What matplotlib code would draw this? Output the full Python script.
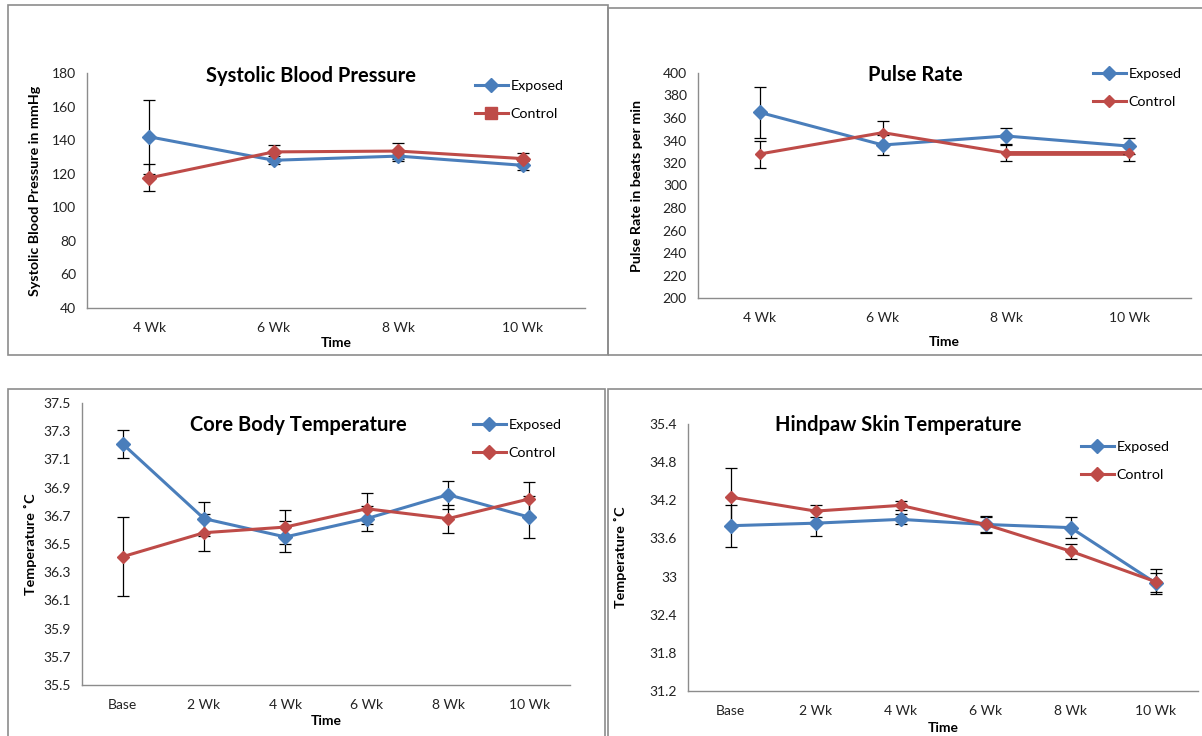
import matplotlib
matplotlib.use('Agg')
import matplotlib.pyplot as plt
from matplotlib.lines import Line2D
from matplotlib.patches import Rectangle
from matplotlib.ticker import FuncFormatter
import numpy as np

plt.rcParams['font.family'] = ['Lato', 'DejaVu Sans']

weeks4 = ['4 Wk', '6 Wk', '8 Wk', '10 Wk']
weeks6 = ['Base', '2 Wk', '4 Wk', '6 Wk', '8 Wk', '10 Wk']

sbp_exposed = [142, 128, 130.5, 125]
sbp_exposed_err = [22, 2.5, 3, 2.5]
sbp_control = [117.5, 133, 133.5, 129]
sbp_control_err = [8, 4, 4.5, 3.5]

pulse_exposed = [365, 336, 344, 335]
pulse_exposed_err = [23, 9, 7, 7]
pulse_control = [328, 347, 329, 329]
pulse_control_err = [12, 10, 7, 7]

core_exposed = [37.21, 36.68, 36.55, 36.68, 36.85, 36.69]
core_exposed_err = [0.10, 0.12, 0.11, 0.09, 0.10, 0.15]
core_control = [36.41, 36.58, 36.62, 36.75, 36.68, 36.82]
core_control_err = [0.28, 0.13, 0.12, 0.11, 0.10, 0.12]

paw_exposed = [33.80, 33.84, 33.90, 33.82, 33.77, 32.90]
paw_exposed_err = [0.33, 0.20, 0.08, 0.12, 0.16, 0.15]
paw_control = [34.25, 34.03, 34.12, 33.82, 33.40, 32.92]
paw_control_err = [0.45, 0.10, 0.07, 0.13, 0.12, 0.20]

BLUE = '#4A7EBB'
RED = '#BE4B48'
W, H = 1202, 736

fig = plt.figure(figsize=(W / 100, H / 100), dpi=100)


def px_axes(left, top, right, bottom):
    return fig.add_axes([left / W, 1 - bottom / H, (right - left) / W, (bottom - top) / H])


def ftext(x, y, s, **kw):
    fig.text(x / W, 1 - y / H, s, **kw)


def panel(box, axbox, cats, exp, exp_err, ctl, ctl_err, yticks, ylabel,
          title, title_xy, leg_xy, ylab_x, time_y, fmt, ctl_ms=7, ctl_marker='D'):
    fig.patches.append(Rectangle((box[0] / W, 1 - box[3] / H), (box[2] - box[0]) / W,
                                 (box[3] - box[1]) / H, transform=fig.transFigure,
                                 fill=False, ec='#8c8c8c', lw=1.2))
    ax = px_axes(*axbox)
    x = np.arange(len(cats))
    ax.errorbar(x, exp, yerr=exp_err, color=BLUE, lw=2.2, marker='D', ms=7,
                ecolor='black', elinewidth=0.9, capsize=4, capthick=0.9, zorder=3)
    ax.errorbar(x, ctl, yerr=ctl_err, color=RED, lw=2.2, marker='D', ms=ctl_ms,
                ecolor='black', elinewidth=0.9, capsize=4, capthick=0.9, zorder=3)
    ax.set_xlim(-0.5, len(cats) - 0.5)
    ax.set_ylim(yticks[0], yticks[-1])
    ax.set_xticks(x)
    ax.set_xticklabels(cats)
    ax.set_yticks(yticks)
    ax.yaxis.set_major_formatter(FuncFormatter(fmt))
    ax.tick_params(length=0, labelsize=10, colors='#222222', pad=8)
    ax.tick_params(axis='x', pad=10)
    for s in ['top', 'right']:
        ax.spines[s].set_visible(False)
    for s in ['left', 'bottom']:
        ax.spines[s].set_color('#8c8c8c')
        ax.spines[s].set_linewidth(1.0)
    ax.patch.set_alpha(0)
    handles = [Line2D([], [], color=BLUE, lw=2.2, marker='D', ms=7),
               Line2D([], [], color=RED, lw=2.2, marker=ctl_marker, ms=ctl_ms + 1)]
    fig.legend(handles, ['Exposed', 'Control'], loc='upper left',
               bbox_to_anchor=(leg_xy[0] / W, 1 - leg_xy[1] / H), frameon=False,
               fontsize=10.3, labelspacing=1.15, handlelength=2.3, handletextpad=0.2)
    ftext(title_xy[0], title_xy[1], title, ha='center', va='center', fontsize=14.5,
          fontweight='bold')
    cy = (axbox[1] + axbox[3]) / 2
    ftext(ylab_x, cy, ylabel, rotation=90, ha='center', va='center', fontsize=10.3,
          fontweight='bold')
    ftext((axbox[0] + axbox[2]) / 2, time_y, 'Time', ha='center', va='center',
          fontsize=10, fontweight='bold')
    return ax


int_fmt = lambda v, p: '{:d}'.format(int(round(v)))
one_fmt = lambda v, p: '{:.1f}'.format(v)
g_fmt = lambda v, p: '{:g}'.format(round(v, 1))

panel((8, 5, 608, 355), (87, 73, 585, 308), weeks4, sbp_exposed, sbp_exposed_err,
      sbp_control, sbp_control_err, np.arange(40, 181, 20),
      'Systolic Blood Pressure in mmHg', 'Systolic Blood Pressure', (311, 76),
      (462, 67), 35, 343, int_fmt, ctl_marker='s')

ax2 = panel((608, 8, 1210, 355), (698, 73, 1191, 298), weeks4, pulse_exposed,
            pulse_exposed_err, pulse_control, pulse_control_err, np.arange(200, 401, 20),
            'Pulse Rate in beats per min', 'Pulse Rate', (915, 75), (1080, 55), 637, 342,
            int_fmt, ctl_ms=5)
ax2.plot(np.arange(len(weeks4))[2:], pulse_control[2:], color=RED, lw=3.4, zorder=2)

panel((8, 389, 605, 745), (82, 403, 570, 685), weeks6, core_exposed, core_exposed_err,
      core_control, core_control_err, np.round(np.arange(35.5, 37.51, 0.2), 1),
      'Temperature \u02daC', 'Core Body Temperature', (298, 425), (460, 406), 30, 721,
      one_fmt, ctl_ms=6)

panel((608, 389, 1210, 745), (688, 424, 1198, 691), weeks6, paw_exposed, paw_exposed_err,
      paw_control, paw_control_err, np.round(np.arange(31.2, 35.41, 0.6), 1),
      'Temperature \u02daC', 'Hindpaw Skin Temperature', (898, 425), (1068, 428), 620, 728,
      g_fmt, ctl_ms=6)

fig.savefig('out.png', dpi=100, facecolor='white')
